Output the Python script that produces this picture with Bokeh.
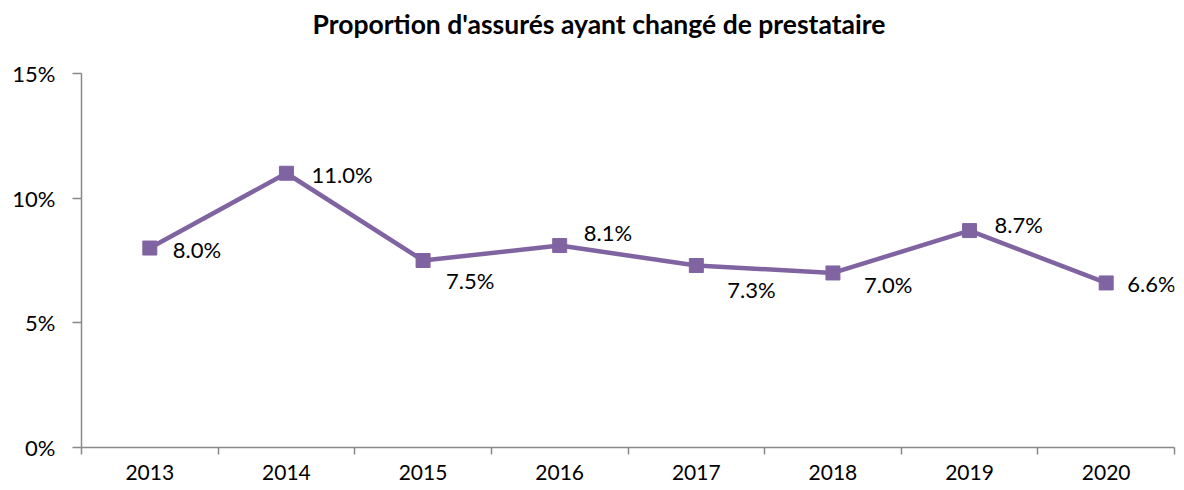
import numpy as np
from bokeh.plotting import figure
from bokeh.models import ColumnDataSource, LabelSet, FixedTicker, Range1d, Title
from bokeh.core.properties import value
from bokeh.embed import file_html
from bokeh.resources import INLINE

years = ["2013", "2014", "2015", "2016", "2017", "2018", "2019", "2020"]
share = [8.0, 11.0, 7.5, 8.1, 7.3, 7.0, 8.7, 6.6]
y_ticks = [0, 5, 10, 15]
title_text = "Proportion d'assurés ayant changé de prestataire"

# styling: label offsets in pixels (right, down)
lab_dx = [23, 25, 23, 24, 31, 31, 25, 21]
lab_dy = [1, 1, 20, -13, 24, 12, -6, 1]

FONT = "Lato"
PURPLE = "#8064A2"
AXIS = "#898989"

xpos = np.arange(len(years)) + 0.5
src = ColumnDataSource(dict(
    x=xpos, y=share,
    label=[f"{v:.1f}%" for v in share],
    dx=lab_dx, dy=[-d for d in lab_dy],
))

p = figure(width=1184, height=490, output_backend="svg", toolbar_location=None,
           x_range=Range1d(0, len(years)), y_range=Range1d(0, 15),
           min_border_left=81, min_border_right=10, min_border_top=73, min_border_bottom=43)

# empty spacer between the title and the plot area
p.add_layout(Title(text=" ", text_font=FONT, text_font_size="20px", standoff=0), "above")

p.title.text = title_text
p.title.text_font = FONT
p.title.text_font_style = "bold"
p.title.text_font_size = "26.5px"
p.title.align = "left"
p.title.offset = 231
p.title.vertical_align = "top"
p.title.standoff = 12
p.title.text_color = "#000000"

p.line("x", "y", source=src, line_color=PURPLE, line_width=4.5)
p.scatter("x", "y", source=src, marker="square", size=14, fill_color=PURPLE, line_color=PURPLE)

labels = LabelSet(x="x", y="y", text="label", source=src, x_offset="dx", y_offset="dy",
                  text_font=value(FONT), text_font_size=value("22px"), text_color="#000000",
                  text_baseline="middle", text_align="left")
p.add_layout(labels)

p.xgrid.visible = False
p.ygrid.visible = False
p.outline_line_color = None

# x axis: labels at category centres, tick marks at boundaries
xa = p.xaxis[0]
xa.ticker = FixedTicker(ticks=list(xpos), minor_ticks=list(range(len(years) + 1)))
xa.major_label_overrides = {float(x): y for x, y in zip(xpos, years)}
xa.major_tick_out = 0
xa.major_tick_in = 0
xa.minor_tick_out = 7
xa.minor_tick_in = 0
xa.minor_tick_line_color = AXIS
xa.minor_tick_line_width = 1.5
xa.axis_line_color = AXIS
xa.axis_line_width = 1.5
xa.major_label_text_font = FONT
xa.major_label_text_font_size = "21px"
xa.major_label_text_color = "#000000"
xa.major_label_standoff = 10

ya = p.yaxis[0]
ya.ticker = FixedTicker(ticks=y_ticks, minor_ticks=[])
ya.major_label_overrides = {t: f"{t}%" for t in y_ticks}
ya.major_tick_out = 9
ya.major_tick_in = 0
ya.major_tick_line_color = AXIS
ya.major_tick_line_width = 1.5
ya.axis_line_color = AXIS
ya.axis_line_width = 1.5
ya.major_label_text_font = FONT
ya.major_label_text_font_size = "22px"
ya.major_label_text_color = "#000000"
ya.major_label_standoff = 17

open("out.html", "w").write(file_html(p, INLINE))
